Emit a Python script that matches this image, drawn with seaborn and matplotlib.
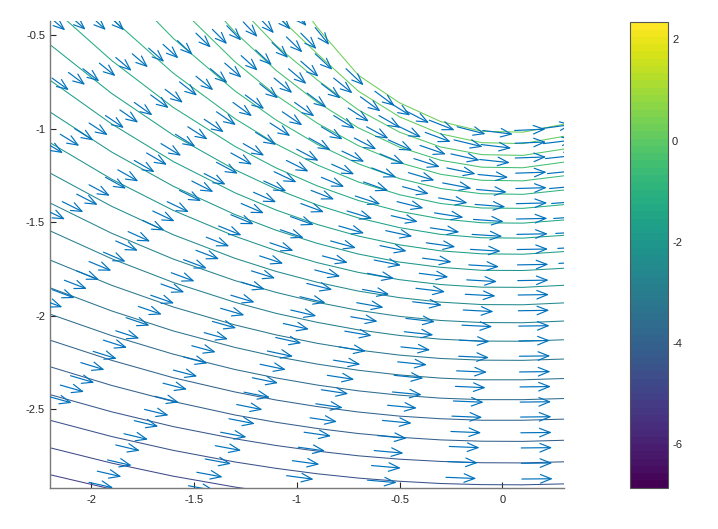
import numpy as np
import seaborn as sns
import matplotlib
matplotlib.use("Agg")
import matplotlib.pyplot as plt
from matplotlib.colors import Normalize
from matplotlib.cm import ScalarMappable

# ---- data ----
# contour lines: y at each x station, one row per level (bottom line first)
contour_x = [-2.2, -1.9, -1.6, -1.3, -1.1, -0.9, -0.7, -0.5, -0.3, -0.1, 0.1, 0.3]
contour_level = [-5.0, -4.77, -4.54, -4.31, -4.08, -3.85, -3.62, -3.39, -3.16, -2.93,
                 -2.7, -2.47, -2.24, -2.01, -1.78, -1.55, -1.32, -1.09, -0.86, -0.63,
                 -0.4, -0.17, 0.06, 0.29]
contour_y = [
    [-2.849, -2.926, -2.992, -3.047, -3.077, -3.103, -3.123, -3.138, -3.149, -3.154, -3.155, -3.150],
    [-2.705, -2.787, -2.857, -2.915, -2.947, -2.974, -2.996, -3.012, -3.023, -3.029, -3.030, -3.025],
    [-2.558, -2.645, -2.719, -2.781, -2.815, -2.844, -2.867, -2.884, -2.896, -2.902, -2.903, -2.898],
    [-2.421, -2.513, -2.592, -2.657, -2.693, -2.723, -2.748, -2.766, -2.778, -2.785, -2.786, -2.780],
    [-2.272, -2.372, -2.458, -2.530, -2.569, -2.602, -2.629, -2.649, -2.663, -2.670, -2.671, -2.665],
    [-2.130, -2.238, -2.331, -2.407, -2.450, -2.485, -2.514, -2.536, -2.550, -2.558, -2.558, -2.552],
    [-1.991, -2.106, -2.205, -2.287, -2.332, -2.370, -2.401, -2.424, -2.440, -2.448, -2.448, -2.442],
    [-1.850, -1.974, -2.081, -2.169, -2.218, -2.258, -2.291, -2.316, -2.333, -2.342, -2.342, -2.335],
    [-1.702, -1.837, -1.953, -2.049, -2.102, -2.147, -2.183, -2.210, -2.228, -2.237, -2.238, -2.231],
    [-1.546, -1.695, -1.822, -1.928, -1.987, -2.035, -2.075, -2.105, -2.125, -2.135, -2.136, -2.128],
    [-1.397, -1.559, -1.697, -1.812, -1.875, -1.928, -1.971, -2.003, -2.025, -2.036, -2.037, -2.028],
    [-1.237, -1.415, -1.567, -1.693, -1.763, -1.821, -1.868, -1.903, -1.927, -1.940, -1.941, -1.931],
    [-1.075, -1.270, -1.437, -1.575, -1.652, -1.716, -1.768, -1.807, -1.833, -1.847, -1.848, -1.837],
    [-0.911, -1.125, -1.308, -1.459, -1.543, -1.613, -1.670, -1.713, -1.741, -1.757, -1.758, -1.746],
    [-0.741, -0.975, -1.176, -1.343, -1.435, -1.512, -1.574, -1.621, -1.653, -1.669, -1.671, -1.657],
    [-0.551, -0.812, -1.035, -1.220, -1.323, -1.408, -1.477, -1.529, -1.565, -1.583, -1.585, -1.570],
    [-0.343, -0.636, -0.887, -1.095, -1.210, -1.306, -1.384, -1.442, -1.482, -1.503, -1.505, -1.488],
    [-0.068, -0.411, -0.704, -0.947, -1.082, -1.194, -1.285, -1.353, -1.400, -1.424, -1.426, -1.406],
    [0.214, -0.181, -0.518, -0.799, -0.954, -1.084, -1.188, -1.267, -1.320, -1.348, -1.351, -1.328],
    [0.523, 0.068, -0.321, -0.643, -0.822, -0.971, -1.091, -1.182, -1.244, -1.276, -1.279, -1.252],
    [0.843, 0.325, -0.118, -0.485, -0.689, -0.859, -0.996, -1.099, -1.169, -1.206, -1.209, -1.179],
    [1.170, 0.587, 0.088, -0.327, -0.556, -0.740, -0.900, -1.019, -1.098, -1.139, -1.143, -1.109],
    [1.578, 0.908, 0.334, -0.142, -0.390, -0.600, -0.800, -0.937, -1.028, -1.075, -1.080, -1.041],
    [1.934, 1.189, 0.552, 0.022, -0.150, -0.460, -0.715, -0.862, -0.962, -1.014, -1.019, -0.976],
]

# arrow tails, grouped along the curved columns they sit on
arrow_x = [
    [-2.20, -2.10, -2.00, -1.91],
    [-2.19, -2.11, -2.04, -1.96, -1.88, -1.80, -1.72, -1.65, -1.58, -1.49, -1.41, -1.34, -1.26, -1.18, -1.10, -1.02],
    [-2.23, -2.15, -2.08, -2.01, -1.93, -1.86, -1.79, -1.71, -1.64, -1.57, -1.49, -1.42, -1.35, -1.27, -1.20, -1.12,
     -1.05, -0.98, -0.91],
    [-2.23, -2.14, -2.07, -2.01, -1.93, -1.87, -1.79, -1.73, -1.66, -1.59, -1.53, -1.45, -1.39, -1.31, -1.25, -1.18,
     -1.11, -1.04, -0.98, -0.91],
    [-2.25, -2.19, -2.13, -2.07, -2.01, -1.94, -1.88, -1.82, -1.75, -1.70, -1.63, -1.57, -1.51, -1.45, -1.39, -1.32,
     -1.26, -1.20, -1.13, -1.07, -1.01, -0.95, -0.88, -0.82, -0.76],
    [-2.21, -2.15, -2.10, -2.05, -1.99, -1.94, -1.88, -1.83, -1.77, -1.71, -1.66, -1.61, -1.55, -1.49, -1.44, -1.38,
     -1.32, -1.27, -1.21, -1.16, -1.11, -1.05, -1.00, -0.94, -0.88, -0.82, -0.75, -0.69, -0.62],
    [-2.01, -1.97, -1.92, -1.88, -1.84, -1.79, -1.74, -1.69, -1.65, -1.60, -1.55, -1.51, -1.45, -1.41, -1.37, -1.32,
     -1.27, -1.22, -1.18, -1.13, -1.08, -1.03, -0.98, -0.93, -0.88, -0.83, -0.78, -0.72, -0.66, -0.60, -0.55],
    [-1.526, -1.486, -1.445, -1.396, -1.37, -1.329, -1.292, -1.256, -1.216, -1.178, -1.143, -1.102, -1.065, -1.029,
     -0.984, -0.951, -0.912, -0.875, -0.835, -0.795, -0.755, -0.715, -0.675, -0.635, -0.595, -0.555, -0.51, -0.47],
    [-1.049, -1.021, -0.993, -0.964, -0.935, -0.907, -0.88, -0.851, -0.821, -0.794, -0.766, -0.737, -0.708, -0.68,
     -0.656, -0.623, -0.595, -0.567, -0.54, -0.512, -0.485, -0.457, -0.43, -0.40, -0.375, -0.355],
    [-0.656, -0.636, -0.623, -0.607, -0.583, -0.558, -0.534, -0.526, -0.509, -0.493, -0.477, -0.469, -0.436, -0.42,
     -0.404, -0.388, -0.37, -0.35, -0.33, -0.31, -0.29, -0.27, -0.25, -0.235, -0.22],
    [-0.274, -0.266, -0.258, -0.25, -0.245, -0.238, -0.228, -0.222, -0.212, -0.209, -0.196, -0.19, -0.18, -0.173,
     -0.163, -0.155, -0.147, -0.14, -0.132, -0.125, -0.118, -0.11, -0.103, -0.095],
    [0.095, 0.093, 0.092, 0.09, 0.089, 0.087, 0.086, 0.084, 0.083, 0.081, 0.08, 0.078, 0.077, 0.075, 0.074, 0.072,
     0.071, 0.069, 0.068, 0.066, 0.065, 0.063, 0.062, 0.06],
    [0.275, 0.27, 0.26, 0.25, 0.24, 0.23, 0.22, 0.21, 0.20, 0.19],
]
arrow_y = [
    [-0.405, -0.40, -0.40, -0.40],
    [-0.73, -0.70, -0.68, -0.65, -0.62, -0.60, -0.57, -0.55, -0.53, -0.49, -0.47, -0.45, -0.43, -0.41, -0.39, -0.37],
    [-1.07, -1.03, -1.00, -0.97, -0.93, -0.90, -0.86, -0.82, -0.79, -0.75, -0.72, -0.68, -0.65, -0.61, -0.58, -0.54,
     -0.51, -0.49, -0.46],
    [-1.43, -1.39, -1.35, -1.30, -1.26, -1.22, -1.17, -1.13, -1.08, -1.03, -0.99, -0.95, -0.91, -0.86, -0.82, -0.76,
     -0.73, -0.68, -0.64, -0.60],
    [-1.91, -1.86, -1.81, -1.76, -1.71, -1.66, -1.60, -1.55, -1.49, -1.44, -1.39, -1.33, -1.28, -1.24, -1.18, -1.13,
     -1.08, -1.02, -0.97, -0.91, -0.86, -0.81, -0.76, -0.73, -0.68],
    [-2.43, -2.37, -2.32, -2.25, -2.19, -2.13, -2.08, -2.01, -1.95, -1.89, -1.83, -1.77, -1.70, -1.65, -1.58, -1.52,
     -1.46, -1.40, -1.34, -1.28, -1.23, -1.17, -1.11, -1.05, -0.99, -0.93, -0.89, -0.83, -0.80],
    [-2.89, -2.83, -2.77, -2.69, -2.63, -2.56, -2.50, -2.43, -2.36, -2.29, -2.22, -2.16, -2.09, -2.03, -1.96, -1.89,
     -1.82, -1.76, -1.68, -1.61, -1.54, -1.47, -1.40, -1.33, -1.26, -1.19, -1.12, -1.05, -0.99, -0.93, -0.86],
    [-2.908, -2.836, -2.765, -2.694, -2.622, -2.55, -2.474, -2.408, -2.331, -2.259, -2.188, -2.116, -2.041, -1.969,
     -1.898, -1.827, -1.755, -1.68, -1.60, -1.52, -1.44, -1.36, -1.285, -1.21, -1.135, -1.06, -0.985, -0.905],
    [-2.854, -2.774, -2.702, -2.622, -2.545, -2.47, -2.395, -2.318, -2.237, -2.166, -2.082, -2.005, -1.93, -1.859,
     -1.773, -1.702, -1.625, -1.545, -1.465, -1.39, -1.31, -1.235, -1.16, -1.09, -1.02, -0.955],
    [-2.878, -2.8, -2.72, -2.64, -2.559, -2.478, -2.407, -2.318, -2.246, -2.166, -2.085, -2.014, -1.925, -1.853,
     -1.773, -1.692, -1.61, -1.53, -1.45, -1.37, -1.29, -1.21, -1.135, -1.06, -0.99],
    [-2.863, -2.779, -2.698, -2.618, -2.536, -2.455, -2.377, -2.294, -2.216, -2.13, -2.05, -1.969, -1.885, -1.808,
     -1.728, -1.645, -1.565, -1.485, -1.405, -1.325, -1.245, -1.165, -1.085, -1.01],
    [-2.872, -2.788, -2.706, -2.625, -2.541, -2.461, -2.38, -2.3, -2.216, -2.134, -2.055, -1.973, -1.889, -1.812,
     -1.728, -1.646, -1.565, -1.483, -1.401, -1.32, -1.238, -1.157, -1.078, -1.01],
    [-1.72, -1.64, -1.56, -1.48, -1.40, -1.32, -1.24, -1.16, -1.08, -1.0],
]
# relative arrow magnitude per column
arrow_speed = [0.65, 0.67, 0.72, 0.76, 0.78, 0.8, 0.8, 0.85, 0.88, 0.95, 0.98, 1.0, 1.0]

cbar_min, cbar_max = -6.86, 2.34
cbar_ticks = [-6, -4, -2, 0, 2]
x_ticks = [-2, -1.5, -1, -0.5, 0]
x_labels = ["-2", "-1.5", "-1", "-0.5", "0"]
y_ticks = [-2.5, -2, -1.5, -1, -0.5]
y_labels = ["-2.5", "-2", "-1.5", "-1", "-0.5"]

# ---- style ----
sns.set_style("white")
plt.rcParams["font.family"] = ["Liberation Sans", "DejaVu Sans"]
tick_color = "#262626"
arrow_color = "#0072BD"

fig = plt.figure(figsize=(7.18, 5.29), dpi=100)
ax = fig.add_axes([0.0696, 0.0775, 0.7159, 0.8828])
xlim = (-2.2, 0.3)
ylim = (-2.92, -0.425)

cmap = plt.get_cmap("viridis", 64)
norm = Normalize(cbar_min, cbar_max)

for level, row in zip(contour_level, contour_y):
    sns.lineplot(x=contour_x, y=row, color=cmap(norm(level)), linewidth=0.75,
                 sort=False, estimator=None, ax=ax)

ax.set_xlim(*xlim)
ax.set_ylim(*ylim)

# pixels per data unit, for arrows of a fixed on-screen length
bb = ax.get_position()
sx = bb.width * fig.get_figwidth() * fig.dpi / (xlim[1] - xlim[0])
sy = bb.height * fig.get_figheight() * fig.dpi / (ylim[1] - ylim[0])
full_len = 31.0  # px for speed 1

grad = [np.gradient(np.array(r), np.array(contour_x)) for r in contour_y]


def local_slope(x0, y0):
    ys = np.array([np.interp(x0, contour_x, r) for r in contour_y])
    ss = np.array([np.interp(x0, contour_x, g) for g in grad])
    return np.interp(y0, ys, ss)


for xs, ys, spd in zip(arrow_x, arrow_y, arrow_speed):
    for x0, y0 in zip(xs, ys):
        m = local_slope(x0, y0)
        d = np.array([sx, m * sy])
        d = d / np.hypot(*d) * spd * full_len
        x1, y1 = x0 + d[0] / sx, y0 + d[1] / sy
        a = ax.annotate("", xy=(x1, y1), xytext=(x0, y0), annotation_clip=False,
                        arrowprops=dict(arrowstyle="->,head_length=0.7,head_width=0.28",
                                        color=arrow_color, lw=0.85, shrinkA=0, shrinkB=0,
                                        mutation_scale=11))
        a.arrow_patch.set_clip_path(ax.patch)

ax.set_xticks(x_ticks)
ax.set_xticklabels(x_labels)
ax.set_yticks(y_ticks)
ax.set_yticklabels(y_labels)
ax.tick_params(axis="x", direction="in", length=4, width=0.8, colors=tick_color,
               labelsize=8, pad=5, bottom=True)
ax.tick_params(axis="y", direction="in", length=4, width=0.8, colors=tick_color,
               labelsize=8, pad=3.5, left=True)
for s in ["top", "right"]:
    ax.spines[s].set_visible(False)
for s in ["left", "bottom"]:
    ax.spines[s].set_color("#7a7a7a")
    ax.spines[s].set_linewidth(1.0)

# colorbar
cax = fig.add_axes([0.8774, 0.0781, 0.0529, 0.8798])
cb = fig.colorbar(ScalarMappable(norm=norm, cmap=cmap), cax=cax)
cb.set_ticks(cbar_ticks)
cb.set_ticklabels([str(t) for t in cbar_ticks])
cax.tick_params(direction="in", left=True, right=True, labelleft=False, labelright=True,
                length=4, width=0.8, colors=tick_color, labelsize=8, pad=3)
cb.outline.set_edgecolor("#555555")
cb.outline.set_linewidth(0.8)

plt.savefig("out.png", dpi=100)
